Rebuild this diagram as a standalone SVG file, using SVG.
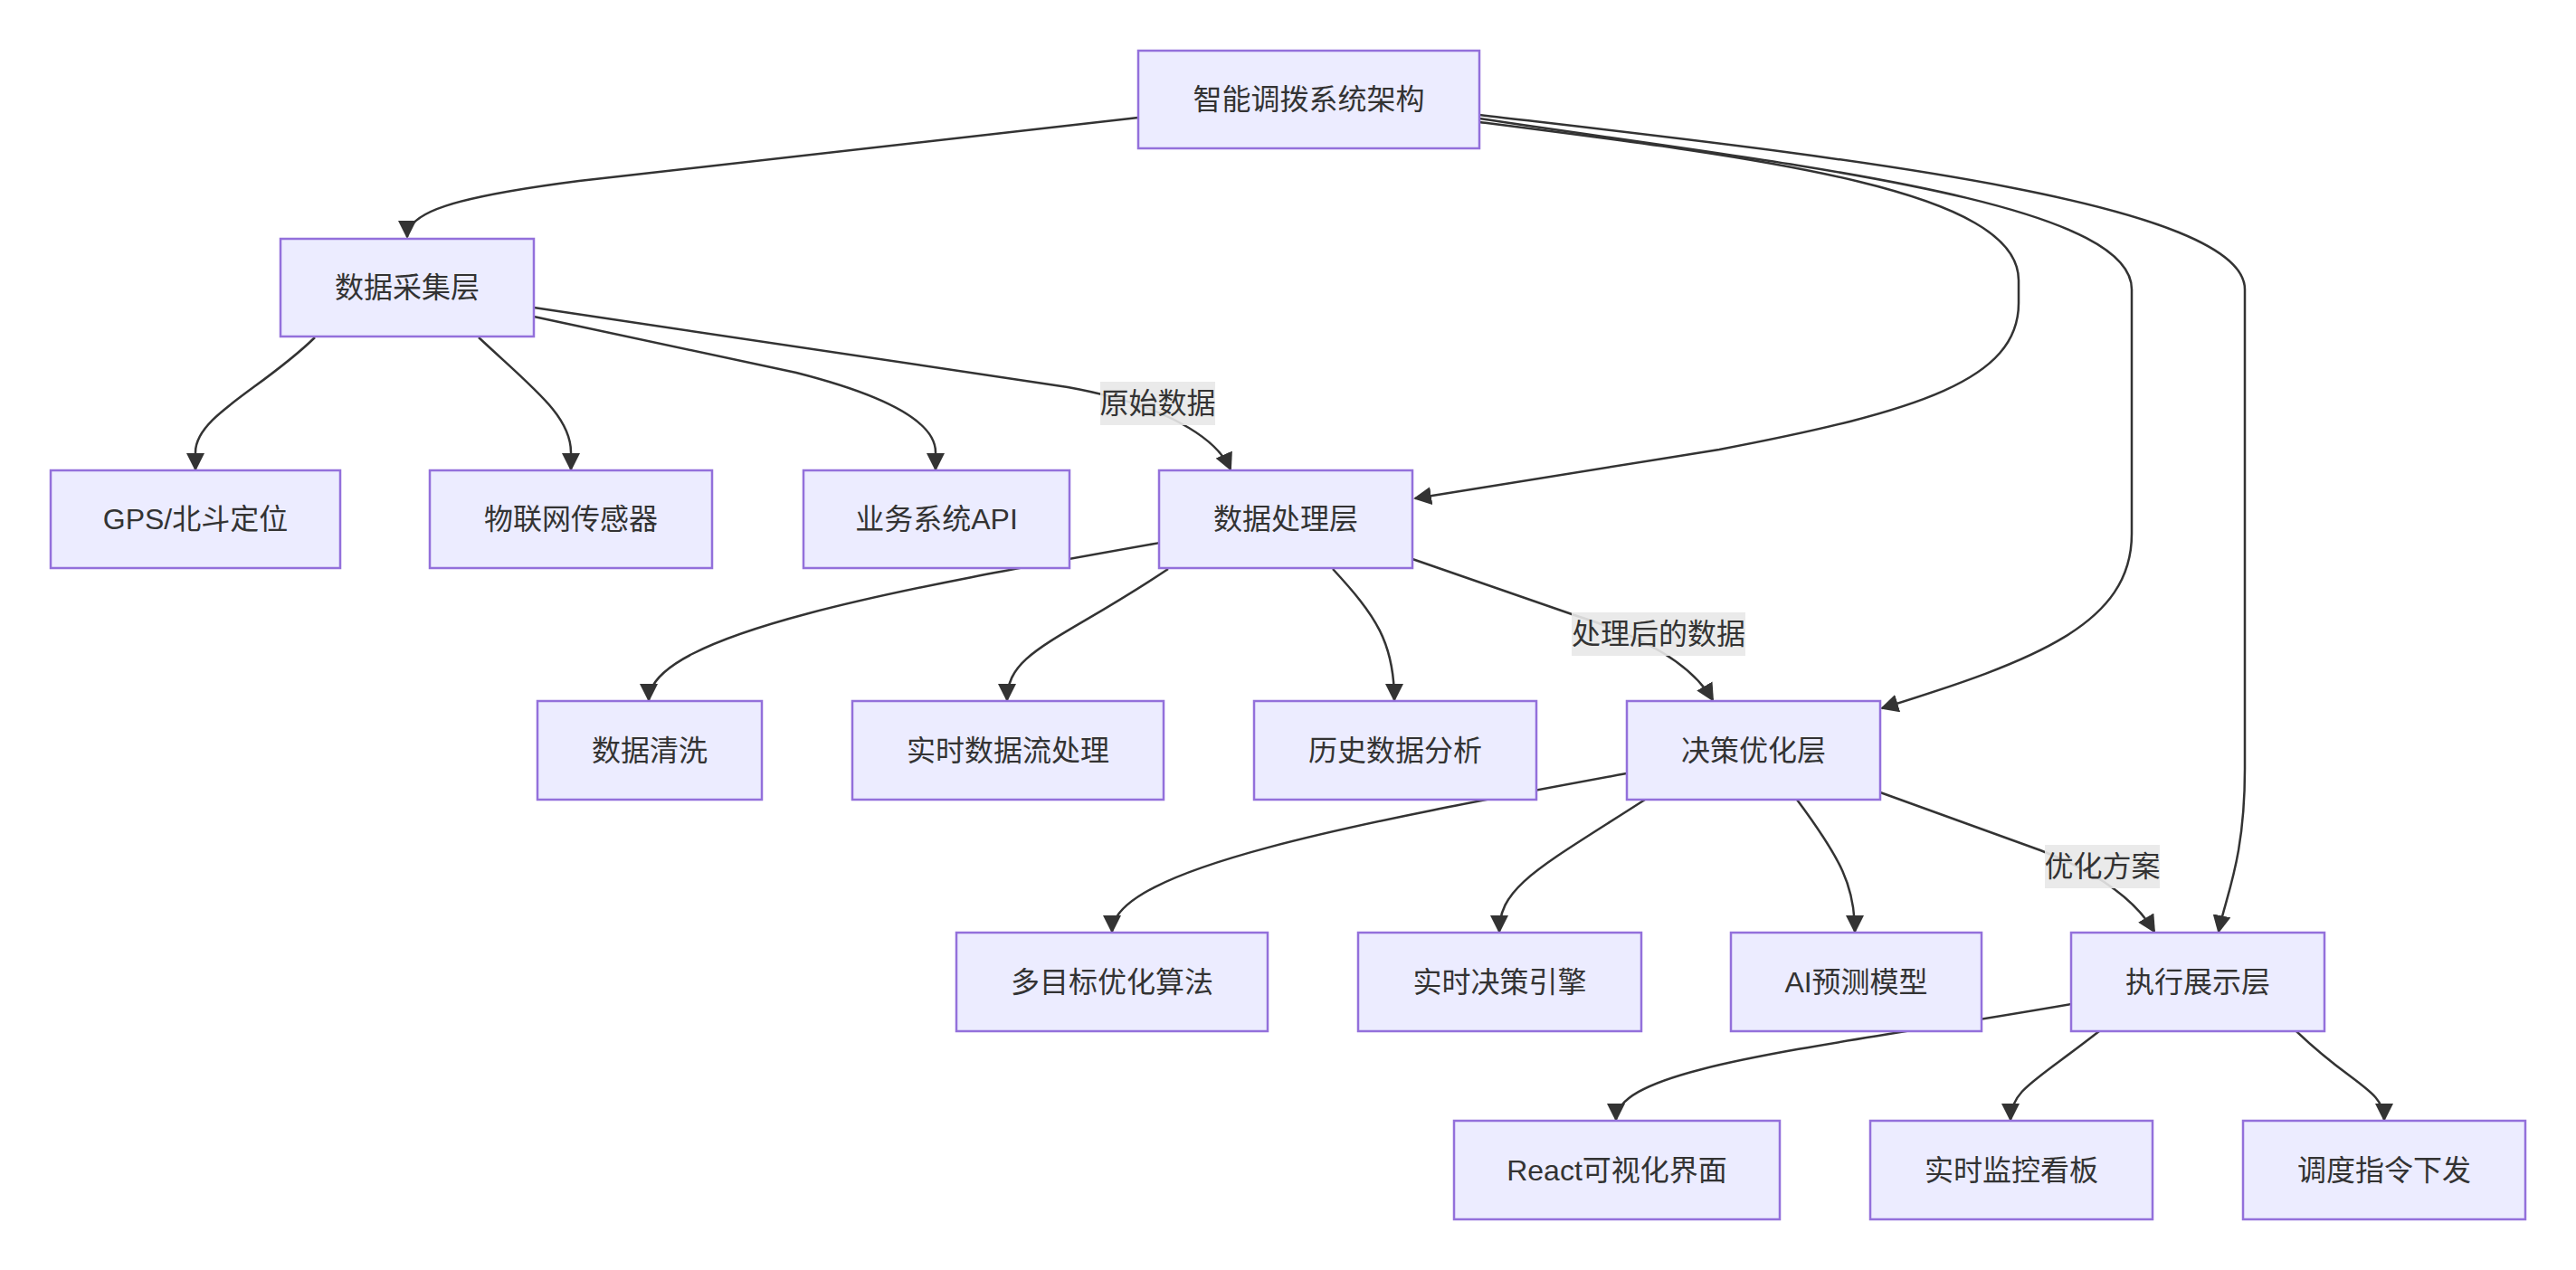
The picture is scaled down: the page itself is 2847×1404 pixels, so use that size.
<svg xmlns="http://www.w3.org/2000/svg" width="2847" height="1404" viewBox="0 0 2847 1404">
<defs>
<style>
.node rect{fill:#ECECFF;stroke:#9370DB;stroke-width:2.5}
.node text,.lbl text{font-family:"Liberation Sans","Noto Sans CJK SC",sans-serif;font-size:32px;fill:#333;text-anchor:middle;dominant-baseline:central}
.edge{fill:none;stroke:#333;stroke-width:2.5;marker-end:url(#arr)}
.lbl rect{fill:#e8e8e8;opacity:0.9}
</style>
<marker id="arr" viewBox="0 0 10 10" refX="9" refY="5" markerUnits="userSpaceOnUse" markerWidth="20" markerHeight="20" orient="auto">
<path d="M0,0 L10,5 L0,10 z" fill="#333"/>
</marker>
</defs>
<rect width="2847" height="1404" fill="#fff"/>
<g id="connectors">
<path class="edge" d="M1258,130 L640,200 C500,218 450,235 450,262"/>
<path class="edge" d="M1635,135 C1950,175 2231,210 2231,310 L2231,335 C2231,420 2120,455 1900,497 L1564,551"/>
<path class="edge" d="M1635,131 C1960,180 2356,220 2356,320 L2356,590 C2356,690 2250,730 2080,783"/>
<path class="edge" d="M1635,127 C2000,170 2481,220 2481,320 L2481,850 C2481,950 2460,990 2452,1030"/>
<path class="edge" d="M348,373 C290,430 216,460 216,500 L216,519"/>
<path class="edge" d="M529,373 C590,430 631,460 631,500 L631,519"/>
<path class="edge" d="M590,350 L880,412 C990,440 1034,470 1034,500 L1034,519"/>
<path class="edge" d="M590,340 L1180,428 C1290,448 1345,485 1360,519"/>
<path class="edge" d="M1282,600 C1000,650 717,700 717,774"/>
<path class="edge" d="M1291,629 C1170,710 1113,720 1113,774"/>
<path class="edge" d="M1473,629 C1520,680 1541,710 1541,774"/>
<path class="edge" d="M1561,618 L1740,680 C1820,705 1870,735 1893,774"/>
<path class="edge" d="M1798,855 C1500,910 1229,960 1229,1030"/>
<path class="edge" d="M1818,884 C1700,960 1657,980 1657,1030"/>
<path class="edge" d="M1986,884 C2035,950 2050,980 2050,1030"/>
<path class="edge" d="M2078,876 L2255,940 C2320,965 2360,995 2381,1030"/>
<path class="edge" d="M2289,1110 C2000,1160 1786,1180 1786,1238"/>
<path class="edge" d="M2320,1140 C2250,1195 2222,1205 2222,1238"/>
<path class="edge" d="M2538,1140 C2600,1200 2635,1205 2635,1238"/>
</g>
<g id="edge-labels">
<g class="lbl" id="l1"><rect x="1216" y="422" width="127" height="48"/><text x="1279.5" y="446">原始数据</text></g>
<g class="lbl" id="l2"><rect x="1737" y="677" width="192" height="48"/><text x="1833" y="701">处理后的数据</text></g>
<g class="lbl" id="l3"><rect x="2260" y="934" width="127" height="48"/><text x="2323.5" y="958">优化方案</text></g>
</g>
<g class="node" id="root"><rect x="1258" y="56" width="377" height="108"/><text x="1446.5" y="110">智能调拨系统架构</text></g>
<g class="node" id="collect"><rect x="310" y="264" width="280" height="108"/><text x="450" y="318">数据采集层</text></g>
<g class="node" id="gps"><rect x="56" y="520" width="320" height="108"/><text x="216" y="574">GPS/北斗定位</text></g>
<g class="node" id="iot"><rect x="475" y="520" width="312" height="108"/><text x="631" y="574">物联网传感器</text></g>
<g class="node" id="api"><rect x="888" y="520" width="294" height="108"/><text x="1035" y="574">业务系统API</text></g>
<g class="node" id="process"><rect x="1281" y="520" width="280" height="108"/><text x="1421" y="574">数据处理层</text></g>
<g class="node" id="clean"><rect x="594" y="775" width="248" height="109"/><text x="718" y="829.5">数据清洗</text></g>
<g class="node" id="stream"><rect x="942" y="775" width="344" height="109"/><text x="1114" y="829.5">实时数据流处理</text></g>
<g class="node" id="history"><rect x="1386" y="775" width="312" height="109"/><text x="1542" y="829.5">历史数据分析</text></g>
<g class="node" id="decide"><rect x="1798" y="775" width="280" height="109"/><text x="1938" y="829.5">决策优化层</text></g>
<g class="node" id="algo"><rect x="1057" y="1031" width="344" height="109"/><text x="1229" y="1085.5">多目标优化算法</text></g>
<g class="node" id="engine"><rect x="1501" y="1031" width="313" height="109"/><text x="1657.5" y="1085.5">实时决策引擎</text></g>
<g class="node" id="ai"><rect x="1913" y="1031" width="277" height="109"/><text x="2051.5" y="1085.5">AI预测模型</text></g>
<g class="node" id="exec"><rect x="2289" y="1031" width="280" height="109"/><text x="2429" y="1085.5">执行展示层</text></g>
<g class="node" id="react"><rect x="1607" y="1239" width="360" height="109"/><text x="1787" y="1293.5">React可视化界面</text></g>
<g class="node" id="monitor"><rect x="2067" y="1239" width="312" height="109"/><text x="2223" y="1293.5">实时监控看板</text></g>
<g class="node" id="dispatch"><rect x="2479" y="1239" width="312" height="109"/><text x="2635" y="1293.5">调度指令下发</text></g>
</svg>
